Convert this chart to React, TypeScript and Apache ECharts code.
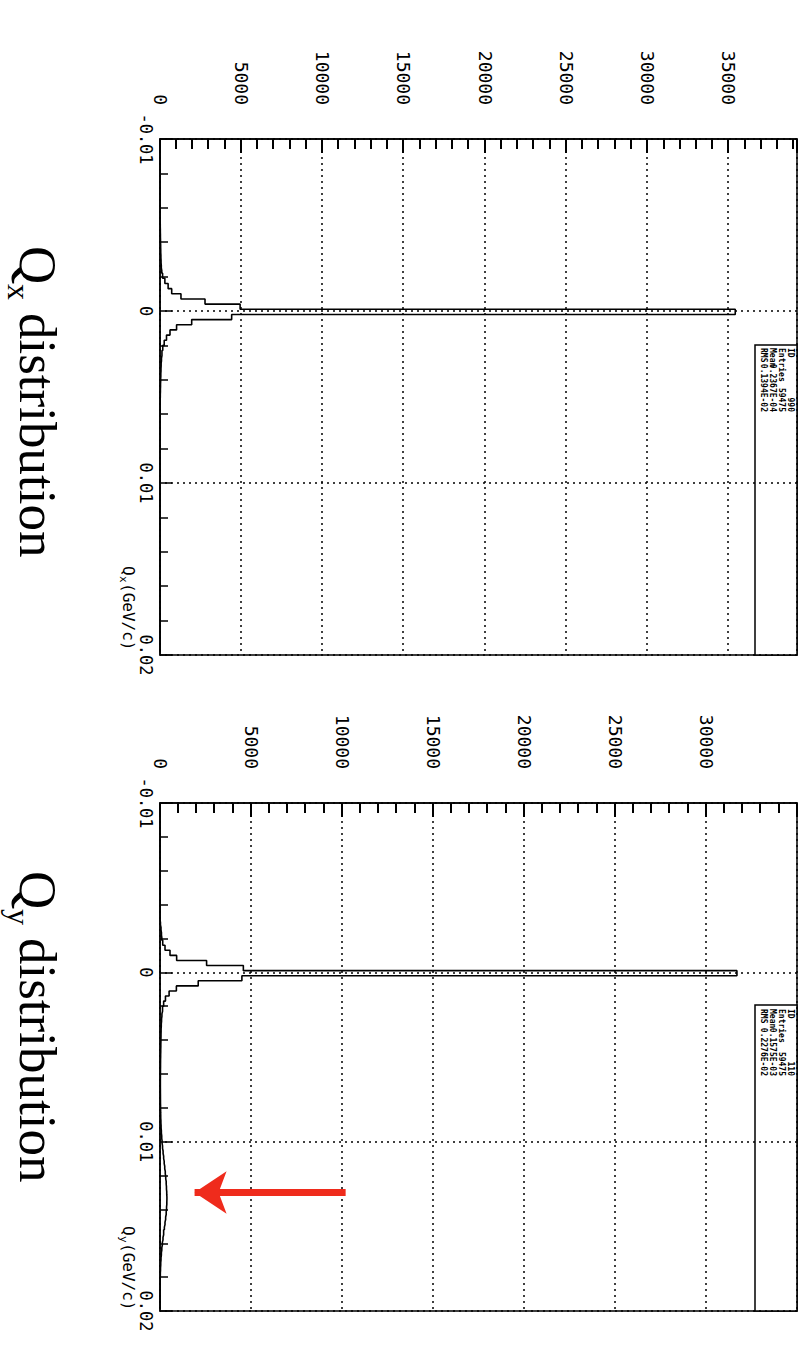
import { useEffect, useRef } from "react";
import * as echarts from "echarts";

// Histogram binning: 100 bins of 0.0003 GeV/c from -0.01 to 0.02
const Q_MIN = -0.01;
const Q_MAX = 0.02;
const BIN_WIDTH = 0.0003;

// Entries per bin, Q_x
const qxCounts = [
  0, 0, 0, 0, 0, 0, 0, 0, 0, 0,
  0, 0, 0, 0, 0, 0, 15, 20, 25, 30,
  40, 45, 55, 65, 80, 110, 160, 300, 500, 720,
  1290, 2770, 4930, 35400, 4410, 1950, 1020, 615, 400, 260,
  170, 120, 90, 70, 60, 50, 40, 32, 25, 18,
  12, 0, 0, 0, 0, 0, 0, 0, 0, 0,
  0, 0, 0, 0, 0, 0, 0, 0, 0, 0,
  0, 0, 0, 0, 0, 0, 0, 0, 0, 0,
  0, 0, 0, 0, 0, 0, 0, 0, 0, 0,
  0, 0, 0, 0, 0, 0, 0, 0, 0, 0,
];

// Entries per bin, Q_y (note the secondary bump near 0.013)
const qyCounts = [
  0, 0, 0, 0, 0, 0, 0, 0, 0, 0,
  0, 0, 0, 0, 0, 0, 0, 0, 0, 0,
  0, 0, 0, 25, 55, 80, 100, 150, 275, 550,
  915, 2560, 4580, 31700, 4500, 2100, 900, 500, 300, 200,
  140, 105, 85, 70, 60, 55, 50, 45, 40, 35,
  30, 28, 25, 22, 20, 20, 22, 24, 26, 30,
  35, 40, 50, 60, 75, 95, 115, 140, 170, 200,
  230, 260, 290, 315, 340, 355, 370, 380, 375, 360,
  340, 310, 275, 240, 200, 165, 130, 100, 75, 55,
  40, 28, 18, 10, 5, 0, 0, 0, 0, 0,
];

const Q_TICK_VALUES = [-0.01, 0, 0.01, 0.02];
const Q_TICK_LABELS = ["-0.01", "0", "0.01", "0.02"];

const COUNT_INTERVAL = 5000;
const QX_COUNT_MAX = 39200;
const QY_COUNT_MAX = 35000;

const qxStats = [
  ["ID", "990"],
  ["Entries", "59475"],
  ["Mean", "0.2367E-04"],
  ["RMS", "0.1394E-02"],
];
const qyStats = [
  ["ID", "110"],
  ["Entries", "59475"],
  ["Mean", "0.1575E-03"],
  ["RMS", "0.2276E-02"],
];

// Arrow pointing at the Q_y bump: Q position and count range
const ARROW_Q = 0.013;
const ARROW_FROM = 10200;
const ARROW_TO = 1900;

const MONO = "DejaVu Sans Mono";
const SERIF = "Liberation Serif";
const BLACK = "#000";

const toPoints = (counts: number[]) =>
  counts.map((c, i) => [Q_MIN + BIN_WIDTH * (i + 0.5), c]);

const qFormatter = (v: number) => {
  const i = Q_TICK_VALUES.findIndex((t) => Math.abs(t - v) < 1e-7);
  return i >= 0 ? Q_TICK_LABELS[i] : "";
};

const dotted = { color: BLACK, type: [2, 4] as number[], width: 1.5 };

function xAxisFor(gridIndex: number) {
  return {
    type: "value",
    gridIndex,
    min: Q_MIN,
    max: Q_MAX,
    interval: 0.01,
    axisLine: { show: true, onZero: false, lineStyle: { color: BLACK, width: 1.5 } },
    axisTick: { show: true, inside: true, length: 12, lineStyle: { color: BLACK, width: 1.5 } },
    minorTick: { show: true, splitNumber: 5, length: 8, lineStyle: { color: BLACK, width: 1.5 } },
    axisLabel: {
      formatter: qFormatter,
      margin: 6,
      fontFamily: MONO,
      fontSize: 17,
      color: BLACK,
    },
    splitLine: { show: true, lineStyle: dotted },
  };
}

function yAxisFor(gridIndex: number, max: number) {
  return {
    type: "value",
    gridIndex,
    min: 0,
    max,
    interval: COUNT_INTERVAL,
    axisLine: { show: true, onZero: false, lineStyle: { color: BLACK, width: 1.5 } },
    axisTick: { show: true, inside: true, length: 14, lineStyle: { color: BLACK, width: 2 } },
    minorTick: { show: true, splitNumber: 5, length: 10, lineStyle: { color: BLACK, width: 2 } },
    axisLabel: {
      formatter: (v: number) => String(Math.round(v)),
      showMaxLabel: false,
      margin: 34,
      fontFamily: MONO,
      fontSize: 18,
      color: BLACK,
    },
    splitLine: { show: true, lineStyle: dotted },
  };
}

function titleGroup(startX: number, sub: string) {
  return {
    type: "group",
    children: [
      {
        type: "text",
        x: startX,
        y: 773,
        style: { text: "Q", font: `53px "${SERIF}"`, fill: BLACK, verticalAlign: "middle" },
      },
      {
        type: "text",
        x: startX + 38,
        y: 792,
        style: { text: sub, font: `32px "${SERIF}"`, fill: BLACK, verticalAlign: "middle" },
      },
      {
        type: "text",
        x: startX + 67,
        y: 773,
        style: { text: "distribution", font: `53px "${SERIF}"`, fill: BLACK, verticalAlign: "middle" },
      },
    ],
  };
}

function axisNameGroup(startX: number, sub: string) {
  return {
    type: "group",
    children: [
      {
        type: "text",
        x: startX,
        y: 683,
        style: { text: "Q", font: `16px "${MONO}"`, fill: BLACK, verticalAlign: "middle" },
      },
      {
        type: "text",
        x: startX + 10,
        y: 688,
        style: { text: sub, font: `11px "${MONO}"`, fill: BLACK, verticalAlign: "middle" },
      },
      {
        type: "text",
        x: startX + 17,
        y: 683,
        style: { text: "(GeV/c)", font: `16px "${MONO}"`, fill: BLACK, verticalAlign: "middle" },
      },
    ],
  };
}

function statsBox(left: number, right: number, textLeft: number, textRight: number, rows: string[][]) {
  const children: any[] = [
    {
      type: "rect",
      shape: { x: left, y: 14, width: right - left, height: 42 },
      style: { fill: "#fff", stroke: BLACK, lineWidth: 1.5 },
    },
  ];
  rows.forEach(([label, value], i) => {
    const y = 21 + i * 9;
    children.push({
      type: "text",
      x: textLeft,
      y,
      style: { text: label, font: `bold 8px "${MONO}"`, fill: BLACK, verticalAlign: "middle" },
    });
    children.push({
      type: "text",
      x: textRight,
      y,
      style: { text: value, font: `bold 8px "${MONO}"`, fill: BLACK, verticalAlign: "middle", align: "right" },
    });
  });
  return { type: "group", z: 10, children };
}

export default function App() {
  const ref = useRef<HTMLDivElement>(null);

  useEffect(() => {
    const el = ref.current;
    if (!el) return;
    const chart = echarts.init(el, null, { renderer: "svg" });

    const lineStyle = { color: BLACK, width: 1.6 };

    chart.setOption({
      animation: false,
      backgroundColor: "#fff",
      textStyle: { fontFamily: MONO },
      grid: [
        { left: 139, top: 14, width: 516, height: 637, show: true, borderColor: BLACK, borderWidth: 1.5 },
        { left: 803, top: 14, width: 508, height: 637, show: true, borderColor: BLACK, borderWidth: 1.5 },
      ],
      xAxis: [xAxisFor(0), xAxisFor(1)],
      yAxis: [yAxisFor(0, QX_COUNT_MAX), yAxisFor(1, QY_COUNT_MAX)],
      series: [
        {
          name: "Qx",
          type: "line",
          xAxisIndex: 0,
          yAxisIndex: 0,
          step: "middle",
          symbol: "none",
          silent: true,
          lineStyle,
          data: toPoints(qxCounts),
        },
        {
          name: "Qy",
          type: "line",
          xAxisIndex: 1,
          yAxisIndex: 1,
          step: "middle",
          symbol: "none",
          silent: true,
          lineStyle,
          data: toPoints(qyCounts),
          markLine: {
            silent: true,
            symbol: ["none", "arrow"],
            symbolSize: 32,
            label: { show: false },
            lineStyle: { color: "#ef2b1c", width: 7, type: "solid" },
            data: [[{ coord: [ARROW_Q, ARROW_FROM] }, { coord: [ARROW_Q, ARROW_TO] }]],
          },
        },
      ],
      graphic: [
        titleGroup(246, "x"),
        titleGroup(871, "y"),
        axisNameGroup(566, "x"),
        axisNameGroup(1226, "y"),
        statsBox(345, 655, 348, 412, qxStats),
        statsBox(1005, 1311, 1009, 1076, qyStats),
      ],
    });

    return () => chart.dispose();
  }, []);

  return (
    <div
      style={{
        position: "absolute",
        left: 0,
        top: 0,
        width: 811,
        height: 1359,
        overflow: "hidden",
        background: "#fff",
      }}
    >
      <div
        ref={ref}
        style={{
          position: "absolute",
          left: 0,
          top: 0,
          width: 1359,
          height: 811,
          transformOrigin: "0 0",
          transform: "translate(811px, 0) rotate(90deg)",
        }}
      />
    </div>
  );
}
